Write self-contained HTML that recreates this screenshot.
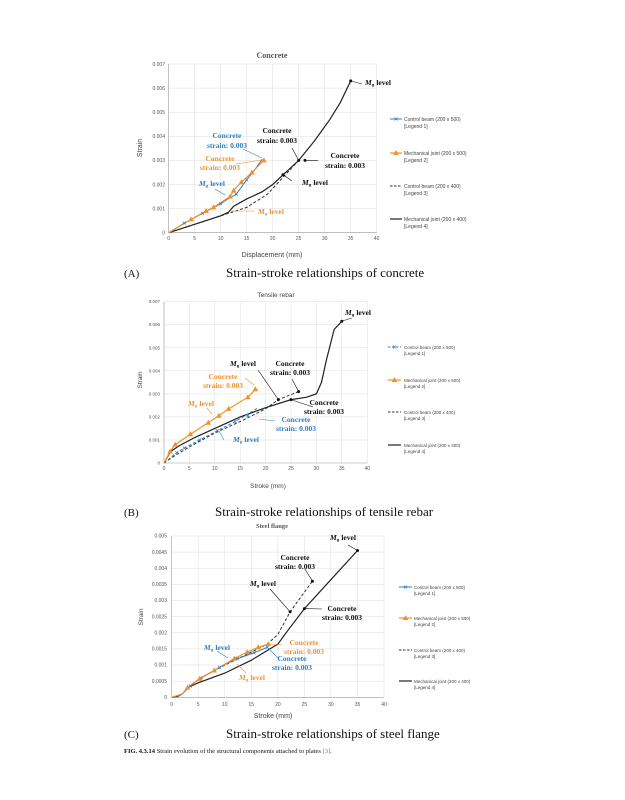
<!DOCTYPE html>
<html><head><meta charset="utf-8"><style>
body{margin:0;background:#fff;}
svg{display:block;font-family:"Liberation Sans",sans-serif;}
.t{font-size:5px;fill:#555;}
.g{stroke:#ddd;stroke-width:0.5;fill:none;}
.ax{stroke:#999;stroke-width:0.6;fill:none;}
.s{fill:none;vector-effect:non-scaling-stroke;}
.ser{font-family:"Liberation Serif",serif;font-weight:bold;font-size:7.5px;}
.lg{font-size:5px;fill:#444;}
.cap{font-family:"Liberation Serif",serif;font-size:13px;fill:#111;}
</style></head><body>
<svg width="625" height="800" viewBox="0 0 625 800" xmlns="http://www.w3.org/2000/svg">
<defs>
<path id="tri" d="M0,-3 L2.8,2 L-2.8,2Z" fill="#f0922b"/>
<path id="x" d="M-1.5,-1.5L1.5,1.5M-1.5,1.5L1.5,-1.5" stroke="#2f7fc1" stroke-width="0.7"/>
</defs>

<!-- ===== Chart A ===== -->
<text x="272" y="58" text-anchor="middle" class="ser" style="font-size:8px;fill:#555">Concrete</text>
<g class="g">
<path d="M168.7,64H376.7M168.7,88.1H376.7M168.7,112.2H376.7M168.7,136.3H376.7M168.7,160.4H376.7M168.7,184.5H376.7M168.7,208.6H376.7"/>
<path d="M194.7,64V232.7M220.7,64V232.7M246.7,64V232.7M272.7,64V232.7M298.7,64V232.7M324.7,64V232.7M350.7,64V232.7M376.7,64V232.7"/>
</g>
<path class="ax" d="M168.7,64V232.7H376.7"/>
<g class="t" text-anchor="end">
<text x="165" y="234.5">0</text><text x="165" y="210.4">0.001</text><text x="165" y="186.3">0.002</text><text x="165" y="162.2">0.003</text><text x="165" y="138.1">0.004</text><text x="165" y="114">0.005</text><text x="165" y="89.9">0.006</text><text x="165" y="65.8">0.007</text>
</g>
<g class="t" text-anchor="middle">
<text x="168.7" y="240">0</text><text x="194.7" y="240">5</text><text x="220.7" y="240">10</text><text x="246.7" y="240">15</text><text x="272.7" y="240">20</text><text x="298.7" y="240">25</text><text x="324.7" y="240">30</text><text x="350.7" y="240">35</text><text x="376.7" y="240">40</text>
</g>
<text x="272" y="257" text-anchor="middle" style="font-size:7px;fill:#444">Displacement (mm)</text>
<text transform="translate(142,148) rotate(-90)" text-anchor="middle" style="font-size:7px;fill:#444">Strain</text>
<g transform="translate(168.7,232.7) scale(5.2,-24.1)">
<polyline class="s" stroke="#333" stroke-width="1" stroke-dasharray="3,2" points="0,0 5,0.35 10,0.7 15,1.05 19,1.6 22,2.3 25,3"/>
<polyline class="s" stroke="#222" stroke-width="1.2" points="0,0 5,0.35 10,0.7 11.5,0.85 12.5,1.1 15,1.4 18,1.7 20,2 22,2.4 25,3 28,3.8 31,4.7 33,5.4 35,6.3"/>
<polyline class="s" stroke="#2f7fc1" stroke-width="1" points="0,0 3,0.4 6.5,0.8 10,1.2 11,1.35 13,1.6 15,2.2 16.5,2.6 18,3.05"/>
<polyline class="s" stroke="#f0922b" stroke-width="1.2" points="0,0 4.3,0.55 7.2,0.9 8.6,1.05 11.8,1.5 12.5,1.75 14,2.1 16,2.5 18.3,3"/>
</g>
<use href="#x" x="184.3" y="223"/><use href="#x" x="202.5" y="213.4"/><use href="#x" x="220.7" y="203.8"/><use href="#x" x="236.3" y="194.1"/><use href="#x" x="246.7" y="179.7"/>
<use href="#tri" x="191.1" y="219.4"/><use href="#tri" x="206.1" y="211"/><use href="#tri" x="213.4" y="207.4"/><use href="#tri" x="230.1" y="196.6"/><use href="#tri" x="233.7" y="190.5"/><use href="#tri" x="241.5" y="182.1"/><use href="#tri" x="251.9" y="172.5"/><use href="#tri" x="263.9" y="160.4"/>
<g fill="#111"><circle cx="350.7" cy="80.9" r="1.5"/><circle cx="298.7" cy="160.4" r="1.5"/><circle cx="283" cy="174.8" r="1.5"/><circle cx="305" cy="160.4" r="1.5"/></g>
<g stroke="#111" stroke-width="0.6"><path d="M351,81L362,84M298.7,160.4L292,148M305,160.4L318,160.4M283,174.8L292,181"/></g>
<g class="ser" fill="#111">
<text x="365" y="85"><tspan font-style="italic">M</tspan><tspan font-size="5" dy="1.5">u</tspan><tspan dy="-1.5"> level</tspan></text>
<text x="277" y="133" text-anchor="middle">Concrete</text><text x="277" y="143" text-anchor="middle">strain: 0.003</text>
<text x="345" y="158" text-anchor="middle">Concrete</text><text x="345" y="168" text-anchor="middle">strain: 0.003</text>
<text x="302" y="185"><tspan font-style="italic">M</tspan><tspan font-size="5" dy="1.5">u</tspan><tspan dy="-1.5"> level</tspan></text>
</g>
<g class="ser" fill="#2f7fc1">
<text x="227" y="138" text-anchor="middle">Concrete</text><text x="227" y="148" text-anchor="middle">strain: 0.003</text>
<text x="199" y="186"><tspan font-style="italic">M</tspan><tspan font-size="5" dy="1.5">u</tspan><tspan dy="-1.5"> level</tspan></text>
</g>
<g stroke="#2f7fc1" stroke-width="0.6"><path d="M243,149L262,158M215,189L225,195"/></g>
<g class="ser" fill="#f0922b">
<text x="220" y="161" text-anchor="middle">Concrete</text><text x="220" y="170" text-anchor="middle">strain: 0.003</text>
<text x="258" y="214"><tspan font-style="italic">M</tspan><tspan font-size="5" dy="1.5">u</tspan><tspan dy="-1.5"> level</tspan></text>
</g>
<g stroke="#f0922b" stroke-width="0.6"><path d="M236,164L262,160M230,211L255,211"/></g>
<!-- legend A -->
<g>
<path d="M390,119H402" stroke="#2f7fc1"/><use href="#x" x="396" y="119"/>
<text x="404" y="121" class="lg">Control beam (200 x 500)</text><text x="404" y="128" class="lg">[Legend 1]</text>
<path d="M390,153H402" stroke="#f0922b" stroke-width="1.2"/><use href="#tri" x="396" y="153"/>
<text x="404" y="155" class="lg">Mechanical joint (200 x 500)</text><text x="404" y="162" class="lg">[Legend 2]</text>
<path d="M390,186H402" stroke="#333" stroke-dasharray="2.5,1.5"/>
<text x="404" y="188" class="lg">Control beam (200 x 400)</text><text x="404" y="195" class="lg">[Legend 3]</text>
<path d="M390,219H402" stroke="#222" stroke-width="1.2"/>
<text x="404" y="221" class="lg">Mechanical joint (200 x 400)</text><text x="404" y="228" class="lg">[Legend 4]</text>
</g>
<text x="124" y="277" class="cap" style="font-size:11px">(A)</text>
<text x="226" y="277" class="cap">Strain-stroke relationships of concrete</text>

<!-- ===== Chart B ===== -->
<text x="276" y="297" text-anchor="middle" style="font-size:6.5px;fill:#444">Tensile rebar</text>
<g class="g">
<path d="M164,301.7H367.3M164,324.7H367.3M164,347.8H367.3M164,370.8H367.3M164,393.9H367.3M164,416.9H367.3M164,440H367.3"/>
<path d="M189.4,301.7V463M214.8,301.7V463M240.2,301.7V463M265.6,301.7V463M291,301.7V463M316.4,301.7V463M341.8,301.7V463M367.3,301.7V463"/>
</g>
<path class="ax" d="M164,301.7V463H367.3"/>
<g class="t" text-anchor="end" style="font-size:4.5px">
<text x="160" y="464.5">0</text><text x="160" y="441.5">0.001</text><text x="160" y="418.4">0.002</text><text x="160" y="395.4">0.003</text><text x="160" y="372.3">0.004</text><text x="160" y="349.3">0.005</text><text x="160" y="326.2">0.006</text><text x="160" y="303.2">0.007</text>
</g>
<g class="t" text-anchor="middle">
<text x="164" y="470">0</text><text x="189.4" y="470">5</text><text x="214.8" y="470">10</text><text x="240.2" y="470">15</text><text x="265.6" y="470">20</text><text x="291" y="470">25</text><text x="316.4" y="470">30</text><text x="341.8" y="470">35</text><text x="367.3" y="470">40</text>
</g>
<text x="268" y="488" text-anchor="middle" style="font-size:6.5px;fill:#444">Stroke (mm)</text>
<text transform="translate(142,380) rotate(-90)" text-anchor="middle" style="font-size:6.5px;fill:#444">Strain</text>
<g transform="translate(164,463) scale(5.08,-23.04)">
<polyline class="s" stroke="#333" stroke-width="1" stroke-dasharray="3,2" points="0,0 2,0.3 5,0.7 10,1.3 15,1.8 20,2.35 22.5,2.75 26.5,3.1"/>
<polyline class="s" stroke="#222" stroke-width="1.2" points="0,0 1.3,0.5 3,0.75 6,1.1 10,1.5 15,2 20,2.4 25,2.75 28,2.85 30,3 31,3.5 32,4.5 33.5,5.8 35,6.15"/>
<polyline class="s" stroke="#2f7fc1" stroke-width="1" stroke-dasharray="3,2" points="0,0 2.5,0.45 4,0.65 7,1 10.5,1.4 14,1.8 16,2.05 18.5,2.4"/>
<polyline class="s" stroke="#f0922b" stroke-width="1.2" points="0,0 1.2,0.5 2.2,0.8 5.2,1.25 8.7,1.75 10.8,2.05 12.7,2.35 16.5,2.85 18,3.2"/>
</g>
<use href="#x" x="176.7" y="452.6"/><use href="#x" x="184.3" y="448"/><use href="#x" x="199.6" y="440"/><use href="#x" x="217.3" y="430.7"/><use href="#x" x="235.1" y="421.5"/><use href="#x" x="247.8" y="415.8"/>
<use href="#tri" x="170.1" y="451.5"/><use href="#tri" x="175.2" y="444.6"/><use href="#tri" x="190.4" y="434.2"/><use href="#tri" x="208.2" y="422.7"/><use href="#tri" x="218.9" y="415.8"/><use href="#tri" x="228.5" y="408.9"/><use href="#tri" x="247.8" y="397.3"/><use href="#tri" x="255.4" y="389.3"/>
<g fill="#111"><circle cx="341.8" cy="321.3" r="1.5"/><circle cx="278.3" cy="399.6" r="1.5"/><circle cx="298.6" cy="391.6" r="1.5"/><circle cx="291" cy="399.6" r="1.5"/></g>
<g stroke="#111" stroke-width="0.6"><path d="M342,321L352,318M278,399L258,370M298.6,391.6L292,379M291,399.6L313,407"/></g>
<g class="ser" fill="#111">
<text x="345" y="315"><tspan font-style="italic">M</tspan><tspan font-size="5" dy="1.5">u</tspan><tspan dy="-1.5"> level</tspan></text>
<text x="230" y="366"><tspan font-style="italic">M</tspan><tspan font-size="5" dy="1.5">u</tspan><tspan dy="-1.5"> level</tspan></text>
<text x="290" y="366" text-anchor="middle">Concrete</text><text x="290" y="375" text-anchor="middle">strain: 0.003</text>
<text x="324" y="405" text-anchor="middle">Concrete</text><text x="324" y="414" text-anchor="middle">strain: 0.003</text>
</g>
<g class="ser" fill="#f0922b">
<text x="223" y="379" text-anchor="middle">Concrete</text><text x="223" y="388" text-anchor="middle">strain: 0.003</text>
<text x="188" y="406"><tspan font-style="italic">M</tspan><tspan font-size="5" dy="1.5">u</tspan><tspan dy="-1.5"> level</tspan></text>
</g>
<g stroke="#f0922b" stroke-width="0.6"><path d="M245,378L254,385M207,408L212,414"/></g>
<g class="ser" fill="#2f7fc1">
<text x="296" y="422" text-anchor="middle">Concrete</text><text x="296" y="431" text-anchor="middle">strain: 0.003</text>
<text x="233" y="442"><tspan font-style="italic">M</tspan><tspan font-size="5" dy="1.5">u</tspan><tspan dy="-1.5"> level</tspan></text>
</g>
<g stroke="#2f7fc1" stroke-width="0.6"><path d="M259,419L275,421M224,440L219,431"/></g>
<g>
<path d="M388,347H401" stroke="#2f7fc1" stroke-dasharray="2.5,1.5"/><use href="#x" x="394.5" y="347"/>
<text x="404" y="349" class="lg" style="font-size:4.5px">Control beam (200 x 500)</text><text x="404" y="355" class="lg" style="font-size:4.5px">[Legend 1]</text>
<path d="M388,380H401" stroke="#f0922b" stroke-width="1.2"/><use href="#tri" x="394.5" y="380"/>
<text x="404" y="382" class="lg" style="font-size:4.5px">Mechanical joint (200 x 500)</text><text x="404" y="388" class="lg" style="font-size:4.5px">[Legend 2]</text>
<path d="M388,412H401" stroke="#333" stroke-dasharray="2.5,1.5"/>
<text x="404" y="414" class="lg" style="font-size:4.5px">Control beam (200 x 400)</text><text x="404" y="420" class="lg" style="font-size:4.5px">[Legend 3]</text>
<path d="M388,445H401" stroke="#222" stroke-width="1.2"/>
<text x="404" y="447" class="lg" style="font-size:4.5px">Mechanical joint (200 x 400)</text><text x="404" y="453" class="lg" style="font-size:4.5px">[Legend 4]</text>
</g>
<text x="124" y="516" class="cap" style="font-size:11px">(B)</text>
<text x="215" y="516" class="cap">Strain-stroke relationships of tensile rebar</text>

<!-- ===== Chart C ===== -->
<text x="272" y="528" text-anchor="middle" class="ser" style="font-size:6.5px;fill:#555">Steel flange</text>
<g class="g">
<path d="M171.7,536H384M171.7,552.1H384M171.7,568.2H384M171.7,584.4H384M171.7,600.5H384M171.7,616.6H384M171.7,632.8H384M171.7,648.9H384M171.7,665H384M171.7,681.2H384"/>
<path d="M198.2,536V697.3M224.8,536V697.3M251.3,536V697.3M277.9,536V697.3M304.4,536V697.3M330.9,536V697.3M357.5,536V697.3M384,536V697.3"/>
</g>
<path class="ax" d="M171.7,536V697.3H384"/>
<g class="t" text-anchor="end">
<text x="167" y="699">0</text><text x="167" y="682.9">0.0005</text><text x="167" y="666.7">0.001</text><text x="167" y="650.6">0.0015</text><text x="167" y="634.5">0.002</text><text x="167" y="618.3">0.0025</text><text x="167" y="602.2">0.003</text><text x="167" y="586.1">0.0035</text><text x="167" y="569.9">0.004</text><text x="167" y="553.8">0.0045</text><text x="167" y="537.7">0.005</text>
</g>
<g class="t" text-anchor="middle">
<text x="171.7" y="706">0</text><text x="198.2" y="706">5</text><text x="224.8" y="706">10</text><text x="251.3" y="706">15</text><text x="277.9" y="706">20</text><text x="304.4" y="706">25</text><text x="330.9" y="706">30</text><text x="357.5" y="706">35</text><text x="384" y="706">40</text>
</g>
<text x="273" y="718" text-anchor="middle" style="font-size:7px;fill:#444">Stroke (mm)</text>
<text transform="translate(143,617) rotate(-90)" text-anchor="middle" style="font-size:6.5px;fill:#444">Strain</text>
<g transform="translate(171.7,697.3) scale(5.31,-32.26)">
<polyline class="s" stroke="#333" stroke-width="1" stroke-dasharray="3,2" points="0,0 2,0.1 3,0.3 5,0.55 10,1 15,1.4 18,1.65 20,1.95 22.3,2.65 26.5,3.6"/>
<polyline class="s" stroke="#222" stroke-width="1.2" points="0,0 1,0.02 2,0.1 3,0.3 5,0.45 10,0.75 15,1.15 18,1.45 20,1.65 22,2.1 25,2.75 30,3.65 35,4.55"/>
<polyline class="s" stroke="#2f7fc1" stroke-width="1" points="0,0 2,0.1 3.5,0.35 5.5,0.6 9,0.93 10.8,1.08 12.5,1.2 15.5,1.38 18,1.55"/>
<polyline class="s" stroke="#f0922b" stroke-width="1.2" points="0,0 2,0.1 3,0.3 5.3,0.57 8,0.83 11.8,1.2 14.2,1.4 16.3,1.55 18.2,1.65"/>
</g>
<use href="#x" x="190.3" y="686"/><use href="#x" x="200.9" y="677.9"/><use href="#x" x="219.5" y="667.3"/><use href="#x" x="237.1" y="658.6"/><use href="#x" x="254" y="652.8"/><use href="#x" x="267.3" y="647.3"/>
<use href="#tri" x="187.6" y="687.6"/><use href="#tri" x="199.8" y="678.9"/><use href="#tri" x="214.2" y="670.5"/><use href="#tri" x="234.4" y="658.6"/><use href="#tri" x="247.1" y="652.1"/><use href="#tri" x="258.3" y="647.3"/><use href="#tri" x="268.3" y="644.1"/>
<g fill="#111"><circle cx="357.5" cy="550.5" r="1.5"/><circle cx="312.4" cy="581.2" r="1.5"/><circle cx="290.1" cy="611.8" r="1.5"/><circle cx="304.4" cy="608.6" r="1.5"/></g>
<g stroke="#111" stroke-width="0.6"><path d="M357.5,550.5L348,545M312.4,581.2L305,569M290.1,611.8L270,589M304.4,608.6L322,609"/></g>
<g class="ser" fill="#111">
<text x="330" y="540"><tspan font-style="italic">M</tspan><tspan font-size="5" dy="1.5">u</tspan><tspan dy="-1.5"> level</tspan></text>
<text x="295" y="560" text-anchor="middle">Concrete</text><text x="295" y="569" text-anchor="middle">strain: 0.003</text>
<text x="250" y="586"><tspan font-style="italic">M</tspan><tspan font-size="5" dy="1.5">u</tspan><tspan dy="-1.5"> level</tspan></text>
<text x="342" y="611" text-anchor="middle">Concrete</text><text x="342" y="620" text-anchor="middle">strain: 0.003</text>
</g>
<g class="ser" fill="#f0922b">
<text x="304" y="645" text-anchor="middle">Concrete</text><text x="304" y="654" text-anchor="middle">strain: 0.003</text>
<text x="239" y="680"><tspan font-style="italic">M</tspan><tspan font-size="5" dy="1.5">u</tspan><tspan dy="-1.5"> level</tspan></text>
</g>
<g stroke="#f0922b" stroke-width="0.6"><path d="M269,644L283,645M237,664L246,673"/></g>
<g class="ser" fill="#2f7fc1">
<text x="204" y="650"><tspan font-style="italic">M</tspan><tspan font-size="5" dy="1.5">u</tspan><tspan dy="-1.5"> level</tspan></text>
<text x="292" y="661" text-anchor="middle">Concrete</text><text x="292" y="670" text-anchor="middle">strain: 0.003</text>
</g>
<g stroke="#2f7fc1" stroke-width="0.6"><path d="M217,651L228,658M267,647L279,659"/></g>
<g>
<path d="M399,587H412" stroke="#2f7fc1"/><use href="#x" x="405.5" y="587"/>
<text x="414" y="589" class="lg" style="font-size:4.5px">Control beam (200 x 500)</text><text x="414" y="595" class="lg" style="font-size:4.5px">[Legend 1]</text>
<path d="M399,618H412" stroke="#f0922b" stroke-width="1.2"/><use href="#tri" x="405.5" y="618"/>
<text x="414" y="620" class="lg" style="font-size:4.5px">Mechanical joint (200 x 500)</text><text x="414" y="626" class="lg" style="font-size:4.5px">[Legend 2]</text>
<path d="M399,650H412" stroke="#333" stroke-dasharray="2.5,1.5"/>
<text x="414" y="652" class="lg" style="font-size:4.5px">Control beam (200 x 400)</text><text x="414" y="658" class="lg" style="font-size:4.5px">[Legend 3]</text>
<path d="M399,681H412" stroke="#222" stroke-width="1.2"/>
<text x="414" y="683" class="lg" style="font-size:4.5px">Mechanical joint (200 x 400)</text><text x="414" y="689" class="lg" style="font-size:4.5px">[Legend 4]</text>
</g>
<text x="124" y="738" class="cap" style="font-size:11px">(C)</text>
<text x="226" y="738" class="cap">Strain-stroke relationships of steel flange</text>

<text x="124" y="753" style="font-family:'Liberation Serif',serif;font-size:6.5px;fill:#111"><tspan font-weight="bold">FIG. 4.3.14</tspan>   Strain evolution of the structural components attached to plates <tspan fill="#2f7fc1">[3]</tspan>.</text>
</svg>
</body></html>
